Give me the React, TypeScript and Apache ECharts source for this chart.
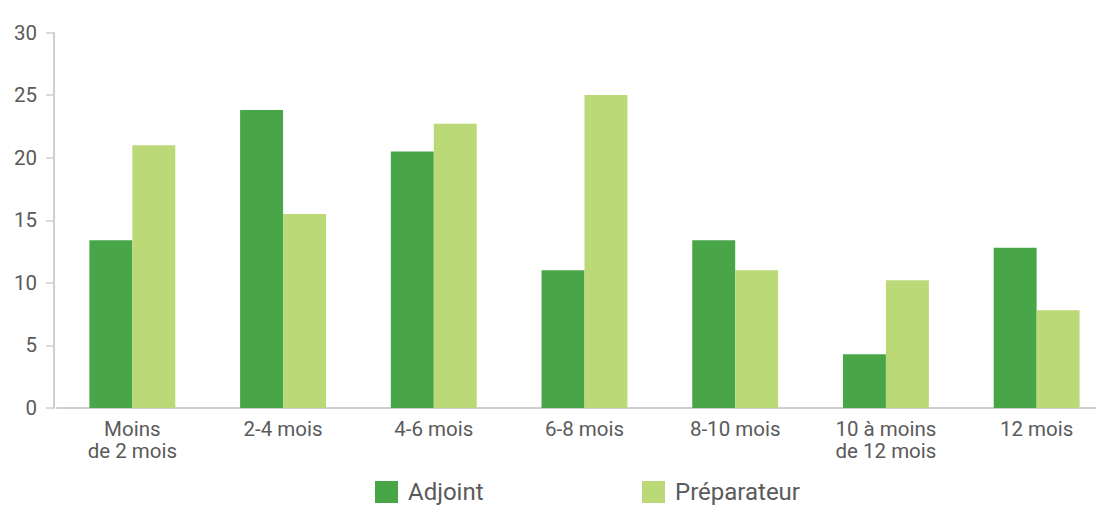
import React, { useEffect, useRef } from "react";
import * as echarts from "echarts";

const categories = ["Moins\nde 2 mois", "2-4 mois", "4-6 mois", "6-8 mois", "8-10 mois", "10 à moins\nde 12 mois", "12 mois"];
const adjoint = [13.4, 23.8, 20.5, 11, 13.4, 4.3, 12.8];
const preparateur = [21, 15.5, 22.7, 25, 11, 10.2, 7.8];
const seriesNames = ["Adjoint", "Préparateur"];
const colors = ["#48A548", "#BCD977"];

const FONT = "Roboto";
const TEXT = "#5a5a5a";
const AXIS = "#cfcfcf";

export default function App() {
  const ref = useRef<HTMLDivElement>(null);
  useEffect(() => {
    const chart = echarts.init(ref.current!, null, { renderer: "svg" });
    const legendText = { fontFamily: FONT, fontSize: 24, color: TEXT, padding: [14, 0, 0, 5] };
    chart.setOption({
      animation: false,
      grid: { left: 57, top: 32.5, width: 1055, bottom: 98, containLabel: false },
      legend: [
        {
          data: [seriesNames[0]],
          left: 375,
          top: 480,
          padding: 0,
          itemWidth: 23,
          itemHeight: 22,
          icon: "rect",
          textStyle: legendText,
        },
        {
          data: [seriesNames[1]],
          left: 642,
          top: 480,
          padding: 0,
          itemWidth: 23,
          itemHeight: 22,
          icon: "rect",
          textStyle: legendText,
        },
      ],
      xAxis: {
        type: "category",
        data: categories,
        axisLine: { lineStyle: { color: AXIS, width: 2 } },
        axisTick: { length: 10, lineStyle: { color: AXIS, width: 1.5 } },
        axisLabel: {
          fontFamily: FONT,
          fontSize: 20.5,
          color: TEXT,
          margin: 10,
          lineHeight: 22,
          interval: 0,
        },
      },
      yAxis: {
        type: "value",
        min: 0,
        max: 30,
        interval: 5,
        offset: 3,
        splitLine: { show: false },
        axisLine: { show: true, lineStyle: { color: AXIS, width: 2 } },
        axisTick: { show: true, length: 8, lineStyle: { color: AXIS, width: 1.5 } },
        axisLabel: { fontFamily: FONT, fontSize: 20.5, color: TEXT, margin: 17 },
      },
      series: [
        {
          name: seriesNames[0],
          type: "bar",
          data: adjoint,
          itemStyle: { color: colors[0] },
          barGap: "0%",
          barCategoryGap: "43%",
        },
        {
          name: seriesNames[1],
          type: "bar",
          data: preparateur,
          itemStyle: { color: colors[1] },
          barGap: "0%",
          barCategoryGap: "43%",
        },
      ],
    });
    return () => chart.dispose();
  }, []);
  return (
    <div style={{ width: 1096, height: 506, position: "absolute", left: 0, top: 0, overflow: "hidden" }}>
      <div ref={ref} style={{ width: 1115, height: 506 }} />
    </div>
  );
}
